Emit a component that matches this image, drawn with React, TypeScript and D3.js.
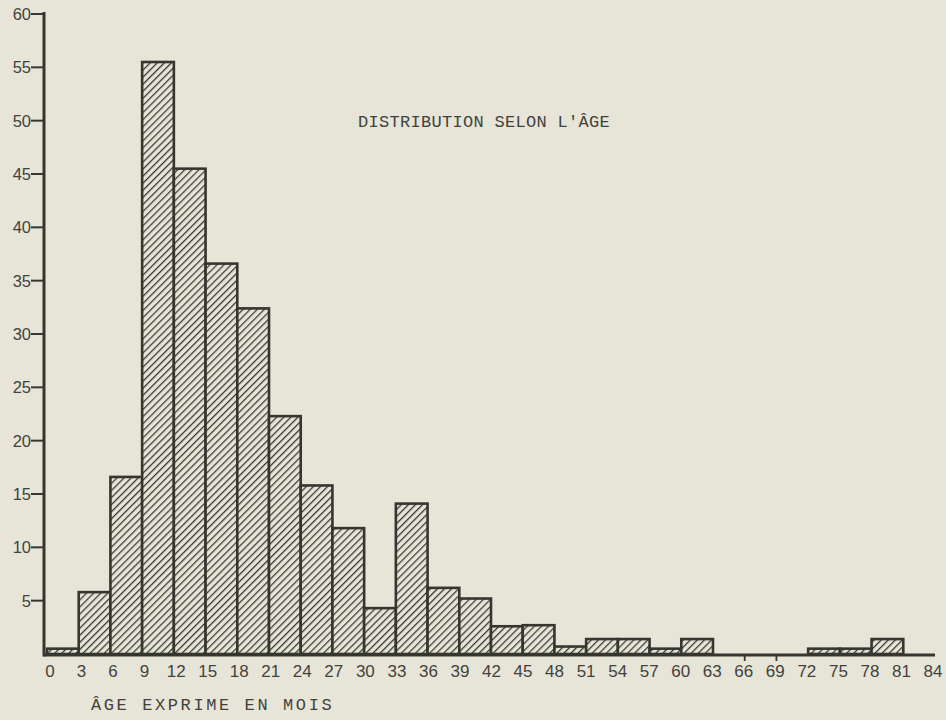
import * as d3 from "d3";

// age bins, 3 months wide (start of each bin)
const binStarts = [0, 3, 6, 9, 12, 15, 18, 21, 24, 27, 30, 33, 36, 39, 42, 45, 48, 51, 54, 57, 60, 63, 66, 69, 72, 75, 78, 81];
const counts = [0.5, 5.8, 16.6, 55.5, 45.5, 36.6, 32.4, 22.3, 15.8, 11.8, 4.3, 14.1, 6.2, 5.2, 2.6, 2.7, 0.7, 1.4, 1.4, 0.5, 1.4, 0, 0, 0, 0.5, 0.5, 1.4, 0];
const xTickLabels = [0, 3, 6, 9, 12, 15, 18, 21, 24, 27, 30, 33, 36, 39, 42, 45, 48, 51, 54, 57, 60, 63, 66, 69, 72, 75, 78, 81, 84];
const yTickLabels = [5, 10, 15, 20, 25, 30, 35, 40, 45, 50, 55, 60];

const paper = "#e7e5d7";
const ink = "#363631";
const textInk = "#42423c";

export default function App() {
  const width = 946;
  const height = 720;
  const x = d3.scaleLinear().domain([0, 84]).range([47, 935]);
  const y = d3.scaleLinear().domain([0, 60]).range([654, 14]);
  // labels were typed a bit right of the ticks at the start, drifting back by the end
  const xLabel = d3.scaleLinear().domain([0, 84]).range([50, 933]);
  const binW = 3;

  // small ticks only show where no bar sits on either side
  const valueAt = (start: number) => {
    const i = binStarts.indexOf(start);
    return i < 0 ? null : counts[i];
  };
  const openTicks = xTickLabels.filter(t => {
    const left = valueAt(t - binW);
    const right = valueAt(t);
    return left === 0 && right === 0;
  });

  return (
    <svg width={width} height={height} style={{ position: "absolute", left: 0, top: 0, background: paper }}>
      <defs>
        <pattern id="hatch" patternUnits="userSpaceOnUse" width="5" height="5" patternTransform="rotate(45)">
          <rect width="5" height="5" fill={paper} />
          <line x1="0" y1="0" x2="0" y2="5" stroke={ink} strokeWidth="2.5" />
        </pattern>
      </defs>
      <rect width={width} height={height} fill={paper} />

      {/* bars */}
      {binStarts.map((s, i) => counts[i] > 0 && (
        <rect key={s}
          x={x(s)} y={y(counts[i])}
          width={x(s + binW) - x(s)} height={y(0) - y(counts[i])}
          fill="url(#hatch)" stroke={ink} strokeWidth={2.6} />
      ))}

      {/* x axis */}
      <line x1={44} x2={x(84)} y1={y(0) + 1} y2={y(0) + 1} stroke={ink} strokeWidth={3} />
      {openTicks.map(t => (
        <line key={t} x1={x(t)} x2={x(t)} y1={y(0)} y2={y(0) + 7} stroke={ink} strokeWidth={1.8} />
      ))}
      {xTickLabels.map(t => (
        <text key={t} x={xLabel(t)} y={677} textAnchor="middle"
          fontFamily="'Liberation Sans', Arial, sans-serif" fontSize={17} fill={textInk}>{t}</text>
      ))}

      {/* y axis */}
      <line x1={44} x2={44} y1={12} y2={y(0) + 2.5} stroke={ink} strokeWidth={3} />
      {yTickLabels.map(t => (
        <g key={t}>
          <line x1={31} x2={44} y1={y(t)} y2={y(t)} stroke={ink} strokeWidth={2} />
          <text x={31} y={y(t) + 6} textAnchor="end"
            fontFamily="'Liberation Sans', Arial, sans-serif" fontSize={16.5} fill={textInk}>{t}</text>
        </g>
      ))}

      {/* titles */}
      <text x={358} y={127} fontFamily="'Liberation Mono', monospace" fontSize={17} letterSpacing={0.3} fill={textInk}>
        DISTRIBUTION SELON L'ÂGE
      </text>
      <text x={91} y={710} fontFamily="'Liberation Mono', monospace" fontSize={17} letterSpacing={2.6} fill={textInk}>
        ÂGE EXPRIME EN MOIS
      </text>
    </svg>
  );
}
